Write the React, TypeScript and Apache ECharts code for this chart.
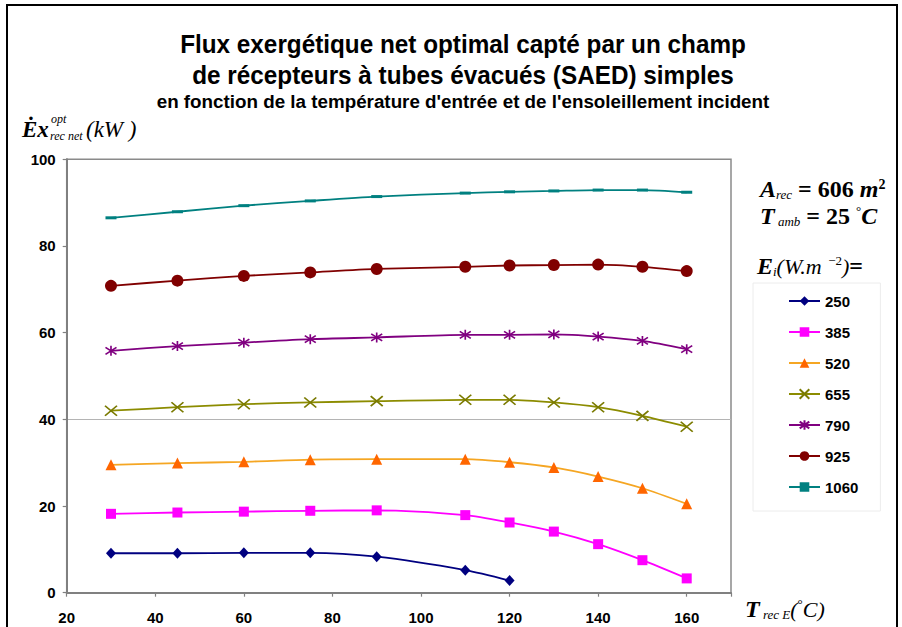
import React, { useEffect, useRef } from "react";
import * as echarts from "echarts";

// ---- data ----
const X_VALUES = [30, 45, 60, 75, 90, 110, 120, 130, 140, 150, 160];
const X_TICK_LABELS = [20, 40, 60, 80, 100, 120, 140, 160];
const Y_TICK_LABELS = [0, 20, 40, 60, 80, 100];
const SERIES_NAMES = ["250", "385", "520", "655", "790", "925", "1060"];
const E250 = [9.1, 9.1, 9.2, 9.2, 8.3, 5.2, 2.8];
const E385 = [18.2, 18.5, 18.7, 18.9, 19.0, 17.9, 16.2, 14.1, 11.2, 7.5, 3.3];
const E520 = [29.5, 29.9, 30.2, 30.7, 30.8, 30.8, 30.1, 28.9, 26.8, 24.1, 20.5];
const E655 = [42.0, 42.8, 43.5, 43.9, 44.2, 44.5, 44.5, 43.9, 42.8, 40.8, 38.3];
const E790 = [55.8, 56.9, 57.7, 58.5, 58.9, 59.5, 59.5, 59.6, 59.1, 58.1, 56.2];
const E925 = [70.8, 72.0, 73.1, 73.9, 74.7, 75.2, 75.5, 75.6, 75.7, 75.2, 74.2];
const E1060 = [86.5, 87.9, 89.3, 90.4, 91.4, 92.2, 92.5, 92.7, 92.9, 92.9, 92.4];
const VALUES = [E250, E385, E520, E655, E790, E925, E1060];

// ---- styles ----
const X_PATH = "path://M0,0L10,10M10,0L0,10";
const STAR_PATH = "path://M5,0L5,10M0,1.5L10,8.5M10,1.5L0,8.5";
const STYLES = [
  { line: "#000080", mark: "#000080", symbol: "diamond", size: [10, 11], stroke: 0 },
  { line: "#FF00FF", mark: "#FF00FF", symbol: "rect", size: 10, stroke: 0 },
  { line: "#F5A623", mark: "#FF6600", symbol: "triangle", size: 11, stroke: 0 },
  { line: "#8C8C00", mark: "#7A7A00", symbol: X_PATH, size: [12, 10], stroke: 1.6 },
  { line: "#800080", mark: "#800080", symbol: STAR_PATH, size: [11, 10], stroke: 1.6 },
  { line: "#800000", mark: "#800000", symbol: "circle", size: 12, stroke: 0 },
  { line: "#008080", mark: "#008080", symbol: "rect", size: [11, 3], stroke: 0 },
];

const SANS = "'Liberation Sans', Arial, sans-serif";
const SERIF = "'Liberation Serif', 'Times New Roman', serif";

export default function App() {
  const ref = useRef<HTMLDivElement>(null);
  useEffect(() => {
    document.body.style.margin = "0";
    const chart = echarts.init(ref.current!, null, { renderer: "svg" });

    const series = SERIES_NAMES.map((name, i) => {
      const st = STYLES[i];
      const isPath = typeof st.symbol === "string" && st.symbol.startsWith("path://");
      return {
        name,
        type: "line",
        data: VALUES[i].map((v, k) => [X_VALUES[k], v]),
        smooth: 0.25,
        symbol: st.symbol,
        symbolSize: st.size,
        showSymbol: true,
        lineStyle: { color: st.line, width: 1.8 },
        itemStyle: isPath
          ? { color: st.mark, borderColor: st.mark, borderWidth: st.stroke }
          : { color: st.mark, borderWidth: 0 },
        z: 3,
      };
    });

    const txt = (x: number, y: number, text: string, extra: any = {}, el: any = {}) => ({
      type: "text",
      x,
      y,
      ...el,
      style: {
        text,
        fill: "#000",
        align: "left",
        verticalAlign: "middle",
        ...extra,
      },
    });

    const richMath = {
      big: { fontFamily: SERIF, fontStyle: "italic", fontWeight: "bold", fontSize: 24, lineHeight: 24 },
      num: { fontFamily: SERIF, fontWeight: "bold", fontSize: 24, lineHeight: 24 },
      it: { fontFamily: SERIF, fontStyle: "italic", fontSize: 22, lineHeight: 24 },
      sub: { fontFamily: SERIF, fontStyle: "italic", fontSize: 13, lineHeight: 11, verticalAlign: "bottom" },
      sup: { fontFamily: SERIF, fontWeight: "bold", fontSize: 14, lineHeight: 11, verticalAlign: "top" },
      supn: { fontFamily: SERIF, fontSize: 13, lineHeight: 12, verticalAlign: "top" },
    };

    chart.setOption({
      animation: false,
      backgroundColor: "#ffffff",
      grid: {
        left: 66.7,
        top: 159.3,
        right: 171,
        bottom: 34.3,
        show: true,
        borderColor: "#8a8a8a",
        borderWidth: 1.5,
        backgroundColor: "transparent",
      },
      xAxis: {
        type: "value",
        min: 20,
        max: 170,
        interval: 20,
        axisLine: { show: true, lineStyle: { color: "#808080", width: 2 } },
        axisTick: { show: true, inside: false, length: 4, lineStyle: { color: "#808080", width: 1.2 } },
        splitLine: { show: false },
        axisLabel: {
          margin: 17,
          color: "#000",
          fontFamily: SANS,
          fontWeight: "bold",
          fontSize: 15,
          formatter: (v: number) => (X_TICK_LABELS.includes(v) ? String(v) : ""),
        },
      },
      yAxis: {
        type: "value",
        min: 0,
        max: 100,
        interval: 20,
        axisLine: { show: true, lineStyle: { color: "#808080", width: 2 } },
        axisTick: { show: true, length: 4, lineStyle: { color: "#808080", width: 1.2 } },
        splitLine: {
          show: true,
          lineStyle: {
            color: Y_TICK_LABELS.map((v) => (v === 40 ? "#b4b4b4" : "rgba(0,0,0,0)")),
            width: 1.2,
          },
        },
        axisLabel: {
          margin: 11,
          color: "#000",
          fontFamily: SANS,
          fontWeight: "bold",
          fontSize: 15,
          formatter: (v: number) => (Y_TICK_LABELS.includes(v) ? String(v) : ""),
        },
      },
      legend: {
        orient: "vertical",
        left: 753,
        top: 283,
        padding: [10, 22, 16, 35],
        itemWidth: 31,
        itemHeight: 12,
        itemGap: 15,
        borderColor: "#ececec",
        borderWidth: 1,
        textStyle: { fontFamily: SANS, fontWeight: "bold", fontSize: 15, color: "#000", lineHeight: 16 },
        data: SERIES_NAMES,
      },
      series,
      graphic: [
        {
          type: "rect",
          shape: { x: 7, y: 5, width: 890, height: 660 },
          style: { fill: "none", stroke: "#000", lineWidth: 2 },
          silent: true,
        },
        txt(463, 44, "Flux exergétique net optimal capté par un champ",
          { align: "center", fontFamily: SANS, fontWeight: "bold", fontSize: 26 }, { scaleX: 0.935 }),
        txt(463, 75, "de récepteurs à tubes évacués (SAED) simples",
          { align: "center", fontFamily: SANS, fontWeight: "bold", fontSize: 26 }, { scaleX: 0.935 }),
        txt(463, 101, "en fonction de la température d'entrée et de l'ensoleillement incident",
          { align: "center", fontFamily: SANS, fontWeight: "bold", fontSize: 19 }, { scaleX: 0.99 }),
        // y axis title
        txt(22, 129, "Ėx", { fontFamily: SERIF, fontStyle: "italic", fontWeight: "bold", fontSize: 23 }),
        txt(51, 119, "opt", { fontFamily: SERIF, fontStyle: "italic", fontSize: 12 }),
        txt(50, 136, "rec net", { fontFamily: SERIF, fontStyle: "italic", fontSize: 12 }),
        txt(86, 129, "(kW )", { fontFamily: SERIF, fontStyle: "italic", fontSize: 23 }),
        // right annotations
        txt(760, 189, "{big|A}{sub|rec}{num| = 606 }{big|m}{sup|2}", { rich: richMath }),
        txt(760, 216, "{big|T}{sub| amb}{num| = 25 }{supn|°}{big|C}", { rich: richMath }),
        txt(757, 266, "{big|E}{sub|i}{it|(W.m}{supn|  −2}{it|)}{num|=}", { rich: richMath }),
        // x axis title
        txt(745, 609, "{big|T}{sub| rec E}{it|(}{supn|°}{it|C)}", { rich: richMath }),
      ],
    });
    return () => chart.dispose();
  }, []);
  return <div ref={ref} style={{ width: 902, height: 627, overflow: "hidden" }} />;
}
